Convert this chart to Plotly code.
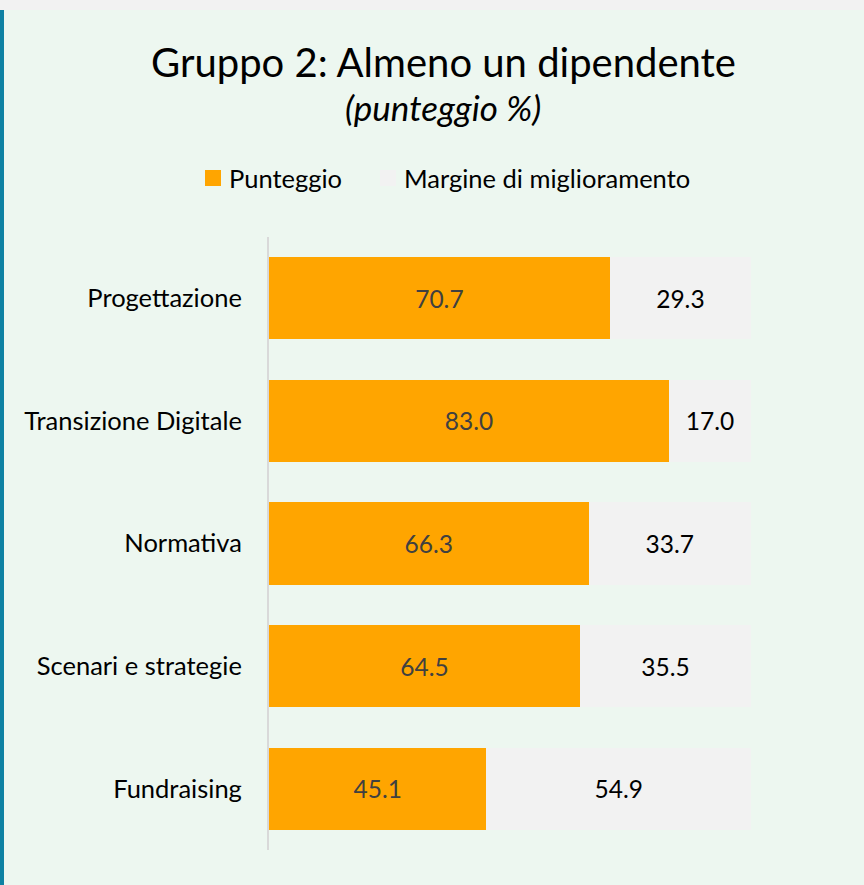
import plotly.graph_objects as go

categories = ["Progettazione", "Transizione Digitale", "Normativa", "Scenari e strategie", "Fundraising"]
punteggio = [70.7, 83.0, 66.3, 64.5, 45.1]
margine = [29.3, 17.0, 33.7, 35.5, 54.9]
series_names = ["Punteggio", "Margine di miglioramento"]
title_text = "Gruppo 2: Almeno un dipendente"
subtitle_text = "(punteggio %)"

W, H = 864, 885
FONT = "Lato"
ORANGE = "#FFA500"
GRAY = "#F2F2F2"
BG = "#EDF7F0"

def px_x(x):
    return x / W

def px_y(y):
    return 1 - y / H

fig = go.Figure()
fig.add_trace(go.Bar(
    y=categories, x=punteggio, name=series_names[0], orientation="h",
    marker=dict(color=ORANGE, line=dict(width=0)),
    text=[f"{v:.1f}" for v in punteggio], textposition="inside",
    insidetextanchor="middle", textangle=0,
    textfont=dict(family=FONT, size=24.5, color="#404040"),
    width=0.67, hoverinfo="skip", showlegend=False,
))
fig.add_trace(go.Bar(
    y=categories, x=margine, name=series_names[1], orientation="h",
    marker=dict(color=GRAY, line=dict(width=0)),
    text=[f"{v:.1f}" for v in margine], textposition="inside",
    insidetextanchor="middle", textangle=0,
    textfont=dict(family=FONT, size=24.5, color="#000000"),
    width=0.67, hoverinfo="skip", showlegend=False,
))

legend_colors = [ORANGE, GRAY]
legend_sq_x = [205, 380]
legend_txt_x = [227, 402]
shapes = [
    dict(type="rect", xref="paper", yref="paper", x0=0, x1=1, y0=px_y(10), y1=1,
         fillcolor="#F2F2F2", line=dict(width=0), layer="below"),
    dict(type="rect", xref="paper", yref="paper", x0=0, x1=px_x(4), y0=0, y1=px_y(10),
         fillcolor="#0E82A3", line=dict(width=0), layer="below"),
]
annotations = [
    dict(text=title_text, xref="paper", yref="paper", x=px_x(443), y=px_y(62),
         xanchor="center", yanchor="middle", showarrow=False,
         font=dict(family=FONT, size=40, color="#000000")),
    dict(text="<i>" + subtitle_text + "</i>", xref="paper", yref="paper", x=px_x(443), y=px_y(107),
         xanchor="center", yanchor="middle", showarrow=False,
         font=dict(family=FONT, size=35, color="#000000")),
]
for name, col, sx, tx in zip(series_names, legend_colors, legend_sq_x, legend_txt_x):
    shapes.append(dict(type="rect", xref="paper", yref="paper", x0=px_x(sx), x1=px_x(sx + 16),
                       y0=px_y(186), y1=px_y(170), fillcolor=col, line=dict(width=0)))
    annotations.append(dict(text=name, xref="paper", yref="paper", x=px_x(tx), y=px_y(178),
                            xanchor="left", yanchor="middle", showarrow=False,
                            font=dict(family=FONT, size=25.5, color="#000000")))

fig.update_layout(
    width=W, height=H,
    margin=dict(l=0, r=0, t=0, b=0),
    paper_bgcolor=BG, plot_bgcolor=BG,
    barmode="stack",
    showlegend=False,
    xaxis=dict(domain=[px_x(269), px_x(751)], range=[0, 100], visible=False, fixedrange=True),
    yaxis=dict(domain=[px_y(850), px_y(237)], autorange="reversed",
               showline=True, linecolor="#D9D9D9", linewidth=2,
               showgrid=False, zeroline=False, ticks="", ticklabelstandoff=20,
               tickfont=dict(family=FONT, size=25.5, color="#000000")),
    font=dict(family=FONT),
    shapes=shapes,
    annotations=annotations,
)

fig.write_html("out.html", config={"displayModeBar": False},
               post_script="document.body.style.margin='0';document.body.style.background='#F2F2F2';")
